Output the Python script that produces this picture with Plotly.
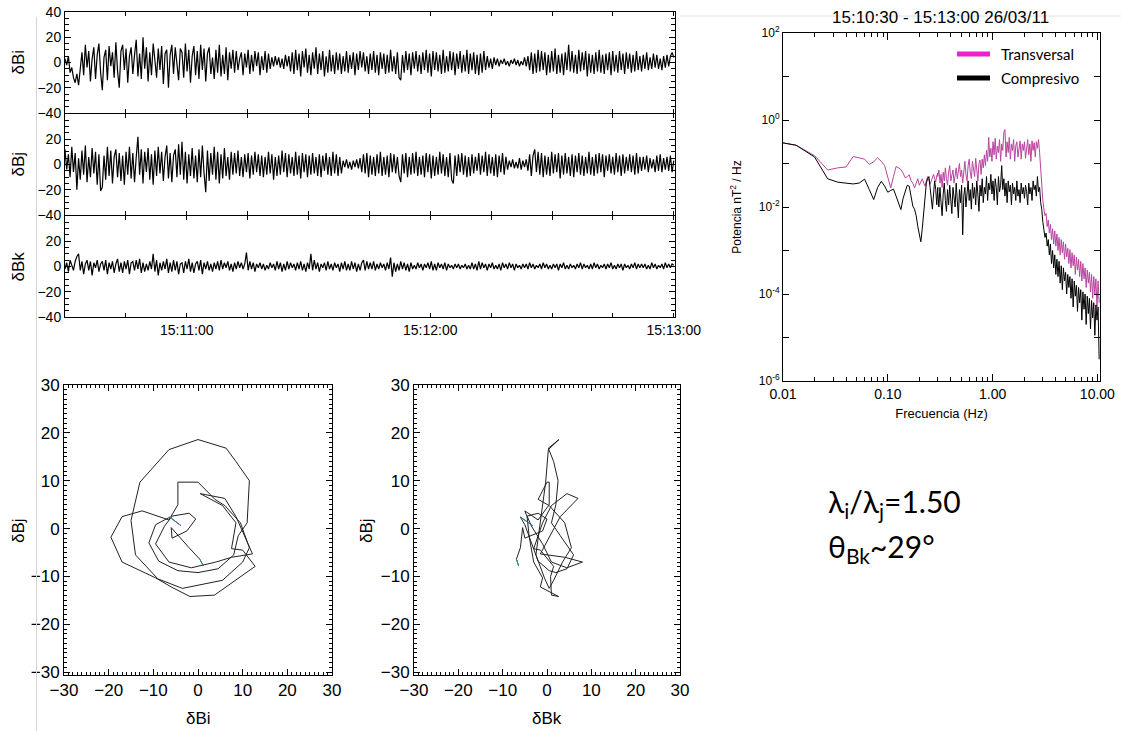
import numpy as np
import pandas as pd
import plotly.graph_objects as go

# ---------------- DATA ----------------
t_start = "2011-03-26 15:10:30"
t_end = "2011-03-26 15:13:00"

dBi = [3, -2, 5, -8, -4, -12, -16, -9, -18, -6, 8, -10, 14, -4, 9, -15, 3, 12, -13, 6,
       15, -8, -22, 4, 10, -14, 13, -3, 8, -12, 16, -7, -20, 9, 14, -6, 11, -16, 5, 12,
       -9, 6, 18, -11, 7, -13, 20, -5, 12, -15, 8, -10, 15, 2, -12, 11, -6, 13, -17, 7,
       10, -20, 6, 14, -9, 12, -4, -14, 11, 8, -12, 15, -7, 10, -16, 5, 13, -10, 9, -13,
       14, -6, 11, -15, 7, 12, -9, 4, -13, 10, -8, 14, -11, 6, -9, 12, -14, 8, -5, 10,
       -8, 9, -6, 3, 8, -10, 7, -4, 10, -9, 6, -7, 9, -3, 8, -10, 5, -6, 9, -8,
       7, -5, 4, -3, 5, -2, 4, -4, 3, -5, 6, -3, 5, -7, 8, -9, 10, -6, 7, -11,
       9, -4, 11, -8, 6, -10, 8, -5, 12, -9, 7, -6, 9, -11, 5, -8, 10, -7, 6, -9,
       8, -6, 7, -9, 5, -7, 9, -8, 6, -5, 8, -10, 7, -6, 9, -4, 8, -7, 5, -9,
       7, -6, 9, -8, 6, -10, 8, -5, 7, -9, 6, -8, 10, -7, 5, -9, 8, -12, -14, 6,
       -8, 9, -6, 7, -10, 8, -5, 9, -7, 6, -9, 8, -6, 10, -8, 7, -11, 9, -6, 8,
       -7, 6, -9, 10, -8, 5, -7, 9, -6, 8, -10, 7, -5, 9, -8, 6, -7, 10, -9, 7,
       -6, 8, -9, 6, -10, 7, -8, 9, -6, 5, -4, 3, -5, 4, -2, 3, -3, 2, -1, 3,
       -2, 1, -3, 2, -1, 3, -2, 2, -3, 1, -2, 4, -3, 5, -6, 8, -9, 7, -8, 10,
       -7, 9, -6, 8, -10, 6, -8, 9, -7, 11, -9, 6, -8, 7, -10, 8, -6, 14, -7, 9,
       -8, 6, -9, 10, -7, 8, -6, 9, -11, 7, -8, 6, -9, 8, -7, 10, -8, 6, -9, 7,
       -6, 8, -10, 9, -7, 6, -8, 9, -6, 7, -9, 8, -5, 7, -8, 6, -7, 9, -6, 5,
       -7, 6, -5, 8, -6, 4, -5, 7, -4, 6, -5, 3, -6, 5, -4, 6, -3, 5, 8, 4]

dBj = [12, -4, 8, -10, 14, -6, 9, -20, 5, -12, 11, -8, 15, -14, 6, -10, 13, -7, 10, -16,
       8, -21, -18, 7, -12, 14, -9, 11, -15, 6, 12, -10, 9, -13, 7, -16, 10, -8, 14, -11,
       9, -14, 6, 22, -8, 12, -15, 10, -6, 13, -12, 8, -16, 11, -9, 14, -7, 10, -13, 6,
       15, -11, 9, -14, 7, 12, -10, 16, -8, 18, -12, 10, -15, 8, -9, 13, -11, 7, -14, 12,
       -10, 15, -7, -22, 11, -13, 9, -8, 14, -12, 10, -15, 8, -11, 13, -9, 6, -12, 10, -8,
       9, -7, 11, -9, 6, -10, 8, -6, 9, -11, 7, -8, 10, -6, 8, -9, 7, -10, 6, -8,
       10, -7, 8, -12, 6, -9, 7, -8, 11, -6, 9, -10, 8, -7, 6, -9, 10, -8, 7, -11,
       9, -6, 8, -10, 7, -8, 9, -7, 6, -9, 8, -10, 7, -5, 9, -8, 6, -9, 10, -7,
       8, -9, 6, -7, 3, -2, 4, -3, 2, -4, 3, -2, 4, -3, 5, -6, 8, -7, 9, -10,
       7, -8, 6, -9, 8, -7, 10, -9, 6, -8, 7, -10, 9, -6, 8, -7, 6, -9, -14, 8,
       -7, 9, -10, 6, -8, 9, -7, 10, -9, 6, -8, 7, -10, 9, -6, 8, -11, 7, -9, 6,
       -8, 10, -7, 8, -9, 6, -10, 9, -12, -15, 7, -9, 8, -6, 9, -8, 7, -10, 6, -9,
       8, -7, 6, -5, 9, -8, 7, -6, 10, -9, 8, -7, 6, -9, 8, -10, 7, -6, 9, -8,
       6, -4, 3, -2, 4, -3, 2, -3, 5, -4, 3, -2, 4, -5, 8, -9, 7, 12, -6, 10,
       -8, 9, -10, 7, -8, 6, -9, 10, -7, 8, -6, 9, -11, 7, -8, 9, -7, 6, -9, 8,
       -10, 7, -6, 9, -8, 7, -9, 6, -7, 10, -8, 6, -9, 8, -7, 9, -6, 8, -10, 7,
       -5, 8, -7, 6, -8, 9, -6, 7, -9, 8, -7, 6, -5, 8, -6, 7, -8, 9, -7, 6,
       -5, 6, -4, 7, -6, 5, -3, 4, -6, 7, -5, 8, -6, 5, -4, 6, -5, 7, -6, 3]

dBk = [-2, 3, -4, 5, 1, -3, 4, 8, 10, -3, 4, -6, 2, 5, -3, 4, -7, 3, -1, 5,
       -4, 2, 4, -3, 5, -6, 3, -2, 4, -5, 2, 6, -4, 3, -5, 4, -2, 5, -6, 3,
       4, -3, 5, -2, 6, -5, 3, -4, 2, -3, 4, -2, 10, -4, 5, -7, 3, -3, 4, -2,
       6, -5, 3, -4, 5, -3, 4, -6, 2, 3, -5, 4, -2, 6, -4, 3, -5, 2, 4, -3,
       5, -6, 3, -2, 4, -3, 2, -4, 3, -2, 4, -3, 5, -2, 3, -1, 4, -3, 2, -4,
       3, -2, 4, -1, 3, -2, 2, 11, -3, 4, -2, 3, -4, 2, -1, 3, -2, 2, -3, 1,
       -2, 3, -1, 2, -3, 4, -2, 3, -4, 2, -3, 4, -2, 3, -1, 2, -3, 3, -2, 4,
       -3, 2, -4, 3, -2, 10, -3, 5, -2, 3, -4, 2, -1, 3, -3, 4, -2, 2, -3, 3,
       -1, 2, -4, 3, -2, 4, -3, 2, -3, 4, -2, 3, -4, 2, -3, 3, 5, -3, 4, -2,
       3, -2, 4, -3, 2, -2, 3, -1, 2, -3, 3, -2, 7, -8, 3, -4, 2, -3, 4, -2,
       3, -3, 2, -4, 3, -2, 1, -2, 3, -1, 2, -3, 2, -1, 3, -2, 4, -3, 2, -3,
       3, -1, 2, -2, 3, -3, 2, -1, 1, -2, 2, -1, 2, -2, 1, -1, 2, -2, 1, -2,
       3, -2, 2, -3, 4, -2, 3, -1, 2, -3, 2, -1, 3, -2, 1, -2, 2, -3, 3, -1,
       2, -2, 3, -1, 2, -3, 2, -1, 1, -2, 2, -1, 2, -2, 3, -1, 2, -2, 1, -1,
       2, -2, 3, -1, 2, -2, 1, -2, 2, -1, 2, -3, 2, -1, 3, -2, 1, -2, 2, -1,
       1, -2, 2, -1, 3, -2, 2, -1, 1, -2, 2, -2, 3, -1, 2, -2, 1, -1, 2, -2,
       2, -1, 3, -2, 1, -2, 2, -1, 2, -3, 2, -1, 1, -2, 2, -1, 3, -2, 2, -1,
       2, -1, 2, -2, 1, -2, 3, -1, 2, -2, 1, -1, 2, -2, 3, -1, 2, -1, 2, 1]

# hodogram samples (nT)
hodo_i = [-3.8, -6.3, -9.5, -11.0, -8.8, -4.5, 0.0, 4.5, 8.0, 9.0,
          11.0, 11.2, 11.5, 8.5, 6.3, 0.0, -6.5, -13.0, -15.0, -14.0,
          -9.0, -3.5, 5.5, 10.0, 11.5, 9.5, 6.0, 3.8, 0.0, -4.5,
          -4.5, -6.5, -12.5, -17.0, -19.5, -17.0, -9.5, -6.0, -1.8, 3.7,
          9.5, 12.8, 10.0, 7.5, 8.5, 5.5, 0.5, 6.0, 8.5, 10.8,
          12.2, 7.5, 4.0, -1.5, -6.5, -9.5, -7.5, -5.8, -2.0, -0.5,
          -2.5, -5.8, -6.0, -2.0, 0.4, 1.2]
hodo_j = [0.6, 2.4, 0.8, -3.0, -6.8, -8.8, -9.2, -8.4, -5.5, -1.5,
          1.2, 5.0, 10.0, 14.0, 16.8, 18.6, 16.5, 9.7, 1.7, -5.5,
          -10.5, -12.5, -10.8, -7.0, -4.0, 1.2, 4.8, 6.1, 9.7, 9.7,
          5.0, 1.8, 3.7, 2.5, -1.8, -7.0, -10.3, -12.2, -14.2, -13.9,
          -10.0, -7.9, -4.5, -4.2, 1.2, 4.8, 7.3, 6.3, 2.5, -2.5,
          -5.3, -6.0, -7.0, -8.2, -7.0, -3.2, 0.5, 2.6, 3.2, 2.0,
          -0.5, -2.0, 0.2, -4.0, -6.4, -7.8]
hodo_k = [-3.2, -6.0, -5.0, -3.5, -2.0, 0.5, 2.0, 4.5, 6.0, 3.0,
          1.0, 2.0, 2.5, 1.5, 0.3, 2.7, 0.3, -0.3, -1.5, -2.5,
          -0.5, 0.5, 1.5, 3.5, 5.5, 4.0, 0.5, -2.0, 0.0, 0.5,
          0.5, -2.0, -5.0, -4.5, -4.0, -3.0, -1.0, -1.5, 2.6, 1.0,
          0.8, 1.5, -1.5, -3.0, -1.0, 1.0, 4.5, 7.0, 3.0, 0.0,
          -1.5, 4.0, 8.0, 4.5, 1.0, -1.0, -3.5, -4.5, -2.0, 0.0,
          -1.0, -5.0, -5.5, -6.0, -6.9, -6.4]

# spectra: low-frequency bins (k / 150 Hz, k = 1..45), log10 power nT^2/Hz
df_low = 1.0 / 150.0
trans_low_log = [-0.45, -0.58, -0.82, -1.15, -1.10, -1.08, -0.84, -0.88, -0.90, -1.02,
                 -0.96, -0.87, -0.95, -1.05, -1.35, -1.56, -1.30, -1.07, -1.10, -1.14,
                 -1.22, -1.33, -1.30, -1.26, -1.40, -1.45, -1.56, -1.45, -1.35, -1.50,
                 -1.42, -1.35, -1.45, -1.52, -1.40, -1.30, -1.38, -1.48, -1.40, -1.30,
                 -1.25, -1.35, -1.42, -1.28, -1.22]
comp_low_log = [-0.45, -0.58, -0.85, -1.35, -1.43, -1.46, -1.47, -1.45, -1.36, -1.60,
                -1.83, -1.55, -1.41, -1.52, -1.66, -1.62, -1.59, -1.75, -1.90, -2.06,
                -1.80, -1.62, -1.50, -1.52, -1.75, -1.98, -2.05, -2.20, -2.45, -2.60,
                -2.80, -2.50, -2.10, -1.75, -1.45, -1.35, -1.30, -1.55, -1.90, -2.05,
                -1.70, -1.40, -1.60, -1.95, -1.55]
# high-frequency part: log-spaced bins 0.3 .. 10.4 Hz
f_high_min, f_high_max = 0.3, 10.4
trans_high_log = [-1.30, -1.15, -1.45, -1.25, -1.55, -1.20, -1.40, -1.10, -1.35, -1.50,
                  -1.20, -1.05, -1.40, -1.30, -1.15, -1.45, -1.25, -1.10, -1.35, -1.20,
                  -1.00, -1.30, -1.15, -1.45, -1.10, -0.95, -1.25, -1.40, -1.05, -0.90,
                  -1.20, -1.35, -0.95, -1.10, -1.30, -0.88, -1.15, -1.40, -1.00, -0.92,
                  -1.25, -0.90, -1.10, -0.80, -1.05, -0.70, -0.95, -0.40, -0.85, -0.65,
                  -0.95, -0.50, -0.80, -0.42, -0.90, -0.60, -0.75, -0.45, -0.95, -0.55,
                  -0.70, -0.28, -0.22, -0.85, -0.50, -0.75, -0.40, -0.90, -0.55, -0.70,
                  -0.45, -0.95, -0.60, -0.50, -0.85, -0.65, -0.48, -0.90, -0.55, -0.70,
                  -0.50, -0.88, -0.60, -0.45, -0.80, -0.55, -0.95, -0.48, -0.70, -0.52,
                  -0.85, -0.50, -0.65, -0.45, -0.75, -1.20, -1.60, -1.85, -2.05, -2.20,
                  -2.15, -2.45, -2.30, -2.60, -2.40, -2.75, -2.50, -2.85, -2.55, -2.90,
                  -2.62, -3.00, -2.70, -3.10, -2.75, -3.05, -2.80, -3.20, -2.85, -3.15,
                  -2.95, -3.30, -2.98, -3.40, -3.05, -3.35, -3.10, -3.55, -3.15, -3.45,
                  -3.20, -3.60, -3.25, -3.70, -3.30, -3.65, -3.40, -3.85, -3.45, -3.75,
                  -3.50, -3.95, -3.55, -4.10, -3.60, -4.00, -3.65, -4.30, -3.70, -4.20]
comp_high_log = [-1.65, -2.00, -1.55, -1.90, -2.20, -1.70, -1.45, -1.85, -2.10, -1.60,
                 -1.95, -1.50, -1.80, -2.15, -1.55, -1.75, -2.00, -1.45, -1.85, -2.25,
                 -1.60, -1.90, -1.50, -2.64, -1.75, -1.55, -2.00, -1.65, -1.40, -1.85,
                 -1.60, -2.05, -1.45, -1.80, -1.55, -1.95, -1.40, -1.70, -2.10, -1.50,
                 -1.75, -1.35, -1.90, -1.55, -1.70, -1.30, -1.85, -1.45, -1.60, -1.25,
                 -1.70, -1.40, -1.85, -1.35, -1.55, -1.95, -1.30, -1.65, -1.50, -1.05,
                 -1.60, -1.35, -1.75, -1.45, -1.90, -1.40, -1.65, -1.50, -1.95, -1.45,
                 -1.70, -1.55, -1.85, -1.40, -1.75, -1.60, -1.90, -1.45, -1.70, -1.55,
                 -1.80, -1.50, -1.65, -1.95, -1.45, -1.70, -1.55, -1.85, -1.40, -1.60,
                 -1.50, -1.75, -1.30, -1.65, -1.55, -1.90, -2.05, -2.35, -2.50, -2.70,
                 -2.60, -2.90, -2.75, -3.10, -2.85, -3.30, -3.00, -3.40, -3.10, -3.55,
                 -3.20, -3.60, -3.25, -3.75, -3.35, -3.90, -3.40, -3.70, -3.50, -4.00,
                 -3.55, -3.85, -3.60, -4.10, -3.65, -4.30, -3.70, -4.05, -3.80, -4.40,
                 -3.85, -4.20, -3.90, -4.60, -3.95, -4.35, -4.00, -4.70, -4.05, -4.45,
                 -4.10, -4.80, -4.15, -4.55, -4.20, -4.95, -4.25, -4.60, -4.30, -5.50]

title_text = "15:10:30 - 15:13:00 26/03/11"
ratio_text = "λ<sub>i</sub>/λ<sub>j</sub>=1.50"
angle_text = "θ<sub>Bk</sub>~29°"

# ---------------- DERIVED ----------------
times = pd.date_range(t_start, t_end, periods=len(dBi))
f_low = np.arange(1, len(trans_low_log) + 1) * df_low
f_high = np.geomspace(f_high_min, f_high_max, len(trans_high_log))
freq = np.concatenate([f_low, f_high])
p_trans = 10 ** np.array(trans_low_log + trans_high_log)
p_comp = 10 ** np.array(comp_low_log + comp_high_log)

W, H = 1121, 731
def px(x):
    return x / W
def py(y):
    return 1 - y / H

FONT = "Liberation Sans, Arial, Helvetica, sans-serif"
SANS2 = "Lato, Open Sans, sans-serif"
fig = go.Figure()

# time series
for k, vals in enumerate([dBi, dBj, dBk]):
    ax = "" if k == 0 else str(k + 1)
    fig.add_trace(go.Scatter(x=times, y=vals, mode="lines", line=dict(color="black", width=1.2),
                             xaxis="x" + ax, yaxis="y" + ax, showlegend=False, hoverinfo="skip"))

# hodograms
hi, hj, hk = np.array(hodo_i), np.array(hodo_j), np.array(hodo_k)
for xs, ax in [(hi, "4"), (hk, "5")]:
    fig.add_trace(go.Scatter(x=xs, y=hj, mode="lines", line=dict(color="#222222", width=1),
                             xaxis="x" + ax, yaxis="y" + ax, showlegend=False))
    fig.add_trace(go.Scatter(x=xs[:2], y=hj[:2], mode="lines", line=dict(color="#2f8fa8", width=1),
                             xaxis="x" + ax, yaxis="y" + ax, showlegend=False))
    fig.add_trace(go.Scatter(x=xs[-2:], y=hj[-2:], mode="lines", line=dict(color="#2e9a4a", width=1),
                             xaxis="x" + ax, yaxis="y" + ax, showlegend=False))

# spectra
fig.add_trace(go.Scatter(x=freq, y=p_trans, mode="lines", line=dict(color="#b8459f", width=1),
                         xaxis="x6", yaxis="y6", name="Transversal", showlegend=False))
fig.add_trace(go.Scatter(x=freq, y=p_comp, mode="lines", line=dict(color="black", width=1),
                         xaxis="x6", yaxis="y6", name="Compresivo", showlegend=False))

# ---------------- AXES ----------------
tick_times = pd.date_range(t_start, t_end, freq="15s")
tick_text = [t.strftime("%H:%M:%S") if t.second == 0 else "" for t in tick_times]
xr = [pd.Timestamp(t_start), pd.Timestamp(t_end) + pd.Timedelta(milliseconds=300)]
ts_dom_x = [px(65), px(675)]
ts_rows = [(12, 113), (114, 215), (216, 317)]

common = dict(showline=True, linecolor="black", linewidth=1, mirror="allticks", ticks="inside",
              showgrid=False, zeroline=False, tickcolor="black", automargin=False,
              tickfont=dict(family=FONT, size=14, color="black"))

layout = dict(width=W, height=H, margin=dict(l=0, r=0, t=0, b=0, pad=0, autoexpand=False),
              paper_bgcolor="white", plot_bgcolor="white", showlegend=False,
              font=dict(family=FONT, color="black"))

for k, (top, bot) in enumerate(ts_rows):
    sfx = "" if k == 0 else str(k + 1)
    layout["xaxis" + sfx] = dict(common, domain=ts_dom_x, range=xr, type="date",
                                 anchor="y" + sfx, tickmode="array", tickvals=tick_times,
                                 ticktext=tick_text, ticklen=4, showticklabels=(k == 2),
                                 tickfont=dict(family=FONT, size=14, color="black"))
    layout["yaxis" + sfx] = dict(common, domain=[py(bot), py(top)], range=[-40, 40],
                                 anchor="x" + sfx, tickmode="array",
                                 tickvals=[-40, -20, 0, 20, 40] if k == 0 else [-40, -20, 0, 20],
                                 ticklen=6, minor=dict(dtick=5, ticks="inside", ticklen=4, tickcolor="black"),
                                 tickfont=dict(family=FONT, size=14, color="black"))

hodo_common = dict(common, range=[-30, 30], tickmode="array", tickvals=[-30, -20, -10, 0, 10, 20, 30],
                   ticklen=6, minor=dict(dtick=1, ticks="inside", ticklen=3, tickcolor="black"),
                   tickfont=dict(family=FONT, size=17, color="black"))
layout["xaxis4"] = dict(hodo_common, domain=[px(64), px(332)], anchor="y4")
layout["yaxis4"] = dict(hodo_common, domain=[py(675), py(385)], anchor="x4", range=[-30.6, 30])
layout["xaxis5"] = dict(hodo_common, domain=[px(414), px(680)], anchor="y5")
layout["yaxis5"] = dict(hodo_common, domain=[py(675), py(385)], anchor="x5", range=[-30.6, 30])

dec = [1e-6, 1e-5, 1e-4, 1e-3, 1e-2, 1e-1, 1e0, 1e1, 1e2]
dec_txt = ["10<sup>-6</sup>", "", "10<sup>-4</sup>", "", "10<sup>-2</sup>", "", "10<sup>0</sup>", "", "10<sup>2</sup>"]
layout["xaxis6"] = dict(common, type="log", domain=[px(783), px(1100)], range=[-2, 1.025], anchor="y6",
                        tickmode="array", tickvals=[0.01, 0.1, 1, 10], ticktext=["0.01", "0.10", "1.00", "10.00"],
                        ticklen=7, minor=dict(ticks="inside", ticklen=4, dtick="D1", tickcolor="black"),
                        tickfont=dict(family=FONT, size=14, color="black"),
                        title=dict(text="Frecuencia (Hz)", font=dict(family=FONT, size=13), standoff=8))
layout["yaxis6"] = dict(common, type="log", domain=[py(381), py(33)], range=[-6, 2], anchor="x6",
                        tickmode="array", tickvals=dec, ticktext=dec_txt, ticklen=6,
                        tickfont=dict(family=FONT, size=12, color="black"),
                        title=dict(text="Potencia nT<sup>2</sup> / Hz", font=dict(family=FONT, size=12), standoff=14))

fig.update_layout(**layout)

# ---------------- TEXT ----------------
ann = []
def add_text(text, x, y, size, family=FONT, angle=0, xanchor="center"):
    ann.append(dict(text=text, x=px(x), y=py(y), xref="paper", yref="paper", xanchor=xanchor,
                    yanchor="middle", textangle=angle, showarrow=False,
                    font=dict(family=family, size=size, color="black")))

for lab, (top, bot) in zip(["δBi", "δBj", "δBk"], ts_rows):
    add_text(lab, 18, (top + bot) / 2, 17, angle=-90)
add_text("δBj", 18, 531, 17, angle=-90)
add_text("δBj", 366, 531, 17, angle=-90)
add_text("δBi", 198, 718, 17)
add_text("δBk", 547, 718, 17)
add_text(title_text, 940, 17, 17)
add_text("Transversal", 999, 54, 15, family=SANS2, xanchor="left")
add_text("Compresivo", 999, 78, 15, family=SANS2, xanchor="left")
add_text(ratio_text, 826, 503, 30, family=SANS2, xanchor="left")
add_text(angle_text, 826, 548, 30, family=SANS2, xanchor="left")

shapes = [
    dict(type="line", xref="paper", yref="paper", x0=px(957), x1=px(990), y0=py(54), y1=py(54),
         line=dict(color="#f020cc", width=5)),
    dict(type="line", xref="paper", yref="paper", x0=px(957), x1=px(990), y0=py(78), y1=py(78),
         line=dict(color="black", width=5)),
    dict(type="line", xref="paper", yref="paper", x0=px(36.5), x1=px(36.5), y0=py(17), y1=0,
         line=dict(color="#d4d4d4", width=1)),
    dict(type="line", xref="paper", yref="paper", x0=px(680), x1=1, y0=py(16), y1=py(16),
         line=dict(color="#e0e0e0", width=1)),
]
fig.update_layout(annotations=ann, shapes=shapes)

fig.write_html("out.html")
